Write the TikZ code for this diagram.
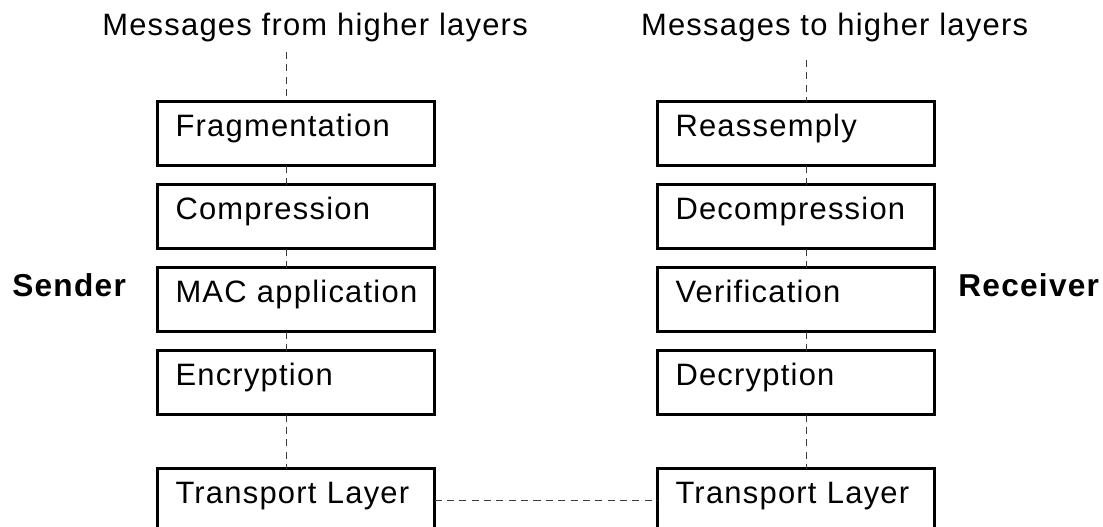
\documentclass[tikz,border=0pt]{standalone}
\usepackage{fontspec}
\setmainfont{Liberation Sans}[LetterSpace=4]
\usetikzlibrary{positioning}
\definecolor{ink}{RGB}{0,0,0}
\definecolor{wire}{RGB}{60,60,60}
\tikzset{
  layer/.style={draw=ink,line width=2.1pt,outer sep=0pt,minimum width=6.925cm,
    minimum height=1.6cm,text width=6.025cm,inner xsep=0.45cm,inner ysep=0.15cm,
    text height=0.7125cm,text depth=0.5875cm,align=left,font=\fontsize{22}{26}\selectfont},
  link/.style={draw=wire,line width=0.7pt,dash pattern=on 5pt off 3.8pt},
  heading/.style={font=\fontsize{22}{26}\selectfont,anchor=base west,inner sep=0pt},
  side/.style={font=\fontsize{22.5}{26}\selectfont\bfseries,anchor=base west,inner sep=0pt},
}

\begin{document}
\begin{tikzpicture}
  \useasboundingbox (0,0) rectangle (27.575,-13.15);
  % titles
  \node[heading] (intitle) at (2.55,-0.875) {Messages from higher layers};
  \node[heading] (outtitle) at (16.02,-0.875) {Messages to higher layers};
  \node[side] (sender) at (0.3,-7.41) {Sender};
  \node[side] (receiver) at (23.95,-7.42) {Receiver};
  % sender stack
  \foreach \t [count=\i from 0] in {Fragmentation,Compression,MAC application,Encryption}{
    \pgfmathsetmacro{\y}{-3.3375-\i*2.075}
    \node[layer] (l\i) at (7.4,\y) {\t};
  }
  \node[layer,below=1.35cm of l3] (ltl) {Transport Layer};
  % receiver stack
  \foreach \t [count=\i from 0] in {Reassemply,Decompression,Verification,Decryption}{
    \pgfmathsetmacro{\y}{-3.3375-\i*2.075}
    \node[layer] (r\i) at (19.9,\y) {\t};
  }
  \node[layer,below=1.35cm of r3] (rtl) {Transport Layer};
  % dashed links
  \coordinate (lin) at (7.17,-1.3);
  \coordinate (rin) at (20.15,-1.5);
  \draw[link] (lin) -- (lin |- l0.north);
  \draw[link] (rin) -- (rin |- r0.north);
  \foreach \a/\b in {l0/l1,l1/l2,l2/l3,l3/ltl}
    \draw[link] ([xshift=-0.23cm]\a.south) -- ([xshift=-0.23cm]\b.north);
  \foreach \a/\b in {r0/r1,r1/r2,r2/r3,r3/rtl}
    \draw[link] ([xshift=0.25cm]\a.south) -- ([xshift=0.25cm]\b.north);
  \draw[link] (ltl.east) -- (rtl.west);
\end{tikzpicture}
\end{document}
